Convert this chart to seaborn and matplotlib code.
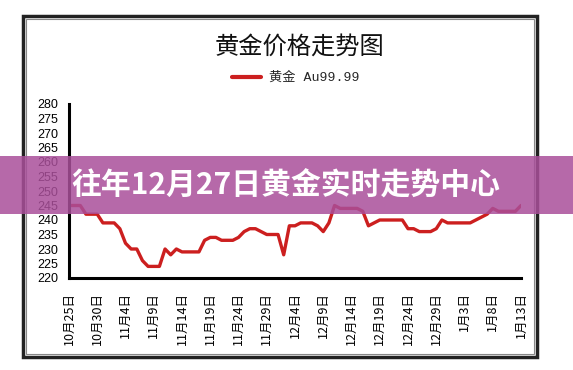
import pandas as pd
import seaborn as sns
import matplotlib.pyplot as plt
from matplotlib.patches import Rectangle

# daily price, 10/25 -> 1/13
days = list(range(81))
price = [245, 245, 245, 242, 242, 242, 239, 239, 239, 237,
         232, 230, 230, 226, 224, 224, 224, 230, 228, 230,
         229, 229, 229, 229, 233, 234, 234, 233, 233, 233,
         234, 236, 237, 237, 236, 235, 235, 235, 228, 238,
         238, 239, 239, 239, 238, 236, 239, 245, 244, 244,
         244, 244, 243, 238, 239, 240, 240, 240, 240, 240,
         237, 237, 236, 236, 236, 237, 240, 239, 239, 239,
         239, 239, 240, 241, 242, 244, 243, 243, 243, 243,
         245]
tick_pos = list(range(0, 81, 5))
tick_labels = ["10月25日", "10月30日", "11月4日", "11月9日", "11月14日",
               "11月19日", "11月24日", "11月29日", "12月4日", "12月9日",
               "12月14日", "12月19日", "12月24日", "12月29日", "1月3日",
               "1月8日", "1月13日"]
y_ticks = list(range(220, 281, 5))

df = pd.DataFrame({"day": days, "price": price})

sns.set_style("white")
plt.rcParams['font.family'] = ['Noto Sans CJK SC', 'DejaVu Sans']

W, H = 573, 370
fig = plt.figure(figsize=(W / 100, H / 100), dpi=100)
ax = fig.add_axes([69 / W, (H - 278) / H, (521 - 69) / W, (278 - 104) / H])

sns.lineplot(data=df, x="day", y="price", ax=ax, color="#cc1f1f",
             linewidth=2.4, label="黄金 Au99.99")

ax.set_xlim(0, 80)
ax.set_ylim(220, 280)
ax.set_xticks(tick_pos)
ax.set_xticklabels(tick_labels, rotation=90, fontsize=9)
ax.set_yticks(y_ticks)
ax.set_yticklabels([str(v) for v in y_ticks], fontsize=9,
                   family=['Liberation Sans'])
ax.set_xlabel("")
ax.set_ylabel("")
for s in ["top", "right"]:
    ax.spines[s].set_visible(False)
for s in ["left", "bottom"]:
    ax.spines[s].set_linewidth(2.2)
    ax.spines[s].set_color("black")
ax.tick_params(axis="x", direction="out", length=3, width=1.5, pad=7, colors="black")
ax.tick_params(axis="y", direction="out", length=3, width=1.5, pad=5, colors="black")
ax.set_facecolor("white")

leg = ax.legend(loc="center", bbox_to_anchor=(296 / W, (H - 78) / H),
                bbox_transform=fig.transFigure, frameon=False,
                handlelength=2.2, handletextpad=0.6,
                prop={'family': ['Liberation Mono', 'Noto Sans CJK SC'], 'size': 9.5})
for ln in leg.get_lines():
    ln.set_linewidth(3)

fig.text(299 / W, (H - 47) / H, "黄金价格走势图", ha="center", va="center",
         fontsize=17.5, fontweight="medium", color="#111111")

# outer chart frame
fig.patches.append(Rectangle((23 / W, (H - 357) / H), (537 - 23) / W, (357 - 16) / H,
                             transform=fig.transFigure, fill=False,
                             edgecolor="#222222", linewidth=2.5, zorder=3))
fig.patches.append(Rectangle((26 / W, (H - 354) / H), (534 - 26) / W, (354 - 19) / H,
                             transform=fig.transFigure, fill=False,
                             edgecolor="#888888", linewidth=0.8, zorder=3))

# banner overlay
fig.patches.append(Rectangle((0, (H - 214) / H), 1, 58 / H,
                             transform=fig.transFigure, facecolor="#a94f9a",
                             edgecolor="none", alpha=0.85, zorder=5))
fig.text(286 / W, (H - 186) / H, "往年12月27日黄金实时走势中心", ha="center",
         va="center", fontsize=21.5, fontweight="bold", color="white", zorder=6)

fig.savefig("out.png", dpi=100)
